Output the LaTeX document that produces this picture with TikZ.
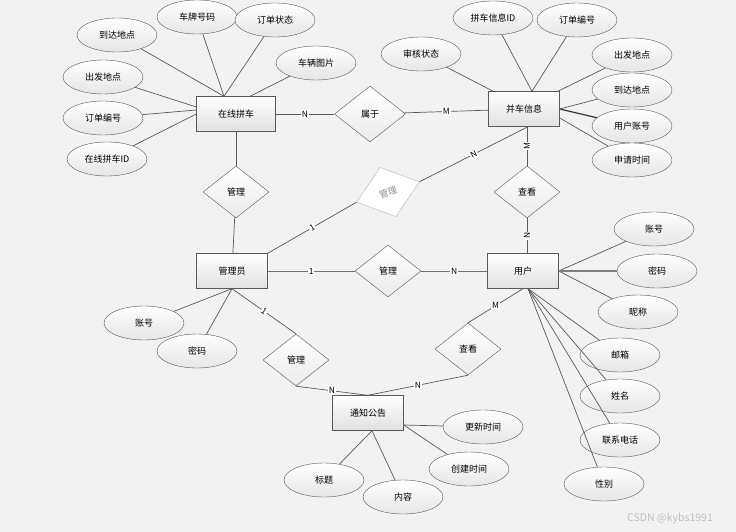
\documentclass[tikz,border=0pt]{standalone}
\usepackage{fontspec}
\setmainfont{Noto Sans CJK SC}
\usetikzlibrary{shapes.geometric}

\colorlet{line edge}{black!65}
\colorlet{page area}{gray!10}
\tikzset{
  entity/.style={rectangle, draw=line edge, top color=white, bottom color=black!12, minimum width=71pt, minimum height=35pt, inner sep=0pt},
  attr/.style={ellipse, draw=line edge, top color=white, bottom color=black!10, minimum width=80pt, minimum height=34pt, inner sep=0pt},
  rel/.style={diamond, draw=line edge, top color=white, bottom color=black!8, minimum width=66pt, minimum height=52pt, inner sep=0pt}
  }
\tikzstyle{edge} = [draw, line width=0.7pt, line edge]
\tikzstyle{card} = [fill=white, inner sep=0.8pt, font=\fontsize{8.5}{10}\selectfont, text=black]

\begin{document}
\begin{tikzpicture}[x=1pt, y=-1pt, font=\fontsize{9}{11}\selectfont]
    \fill[page area] (0,0) rectangle (736,532);
    \useasboundingbox (0,0) rectangle (736,532);

    % The entities
    \node[entity, minimum width=79pt] (zx) at (236,114) {在线拼车};
    \foreach \pos/\name/\txt in {{(524,109)/bx/并车信息}, {(232,271)/gly/管理员}, {(523,271)/yh/用户}, {(368,413)/tz/通知公告}} {
      \node[entity] (\name) at \pos {\txt};
    }

    % The attributes
    \foreach \pos/\name/\txt in {{(117,35)/zxdd/到达地点}, {(197,17)/zxcp/车牌号码}, {(275,20)/zxzt/订单状态}, {(316,63)/zxtp/车辆图片}, {(103,77)/zxcf/出发地点}, {(103,118)/zxbh/订单编号}, {(107,159)/zxid/在线拼车ID},
      {(421,54)/bxsh/审核状态}, {(493,18)/bxid/拼车信息ID}, {(577,20)/bxbh/订单编号}, {(632,55)/bxcf/出发地点}, {(632,90)/bxdd/到达地点}, {(632,126)/bxzh/用户账号}, {(632,160)/bxsj/申请时间},
      {(654,229)/yhzh/账号}, {(657,271)/yhmm/密码}, {(638,312)/yhnc/昵称}, {(620,355)/yhyx/邮箱}, {(620,396)/yhxm/姓名}, {(620,440)/yhdh/联系电话}, {(604,484)/yhxb/性别},
      {(144,323)/glyzh/账号}, {(197,351)/glymm/密码},
      {(324,480)/tzbt/标题}, {(403,497)/tznr/内容}, {(469,469)/tzcj/创建时间}, {(483,427)/tzgx/更新时间}} {
      \node[attr] (\name) at \pos {\txt};
    }

    % Where the attribute lines meet the entities
    \coordinate (zxtop) at ([xshift=-12pt]zx.north);
    \coordinate (zxtr) at ([xshift=14pt]zx.north);
    \coordinate (zxl1) at ([yshift=7pt]zx.west);
    \coordinate (zxl2) at ([yshift=4pt]zx.west);
    \coordinate (bxtl) at ([xshift=5pt]bx.north west);
    \coordinate (bxtop) at ([xshift=8pt]bx.north);
    \coordinate (bxtr) at ([xshift=-2pt]bx.north east);
    \coordinate (bxr) at ([yshift=-9pt]bx.east);
    \coordinate (yhbot) at ([xshift=5pt]yh.south);
    \coordinate (tzbot) at ([xshift=4pt]tz.south);
    \coordinate (tzr) at ([yshift=-12pt]tz.east);

    \foreach \source/\sink in {zxdd/zxtop, zxcp/zxtop, zxzt/zxtop, zxtp/zxtr, zxcf/zxl1, zxbh/zxl2, zxid/zx.west,
      bxsh/bxtl, bxid/bxtop, bxbh/bxtop, bxcf/bxtr, bxdd/bx.east, bxsj/bxr,
      yhzh/yh.east, yhnc/yh.east, yhyx/yhbot, yhxm/yhbot, yhdh/yhbot, yhxb/yhbot,
      glyzh/gly.south, glymm/gly.south, tzbt/tzbot, tznr/tzbot, tzcj/tzr, tzgx/tzr} {
      \path[edge] (\source) -- (\sink);
    }
    \path[edge, line width=1.2pt, black!80] (bxzh) -- (bx.east);
    \path[edge, line width=1.5pt, black!50] (yhmm) -- (yh.east);

    % The relationships
    \node[rel, minimum width=71pt, minimum height=56pt] (sy) at (370,114) {属于};
    \foreach \pos/\name/\txt in {{(236,192)/glzx/管理}, {(527,192)/ckbx/查看}, {(388,271)/glyh/管理}, {(468,349)/cktz/查看}, {(296,360)/gltz/管理}} {
      \node[rel] (\name) at \pos {\txt};
    }
    \node[rel, draw=black!30, top color=white, bottom color=white, text=black!45, rotate=18] (glbx) at (388,192) {管理};

    % The connections between them
    \path[edge] (zx) -- node[card] {N} (sy);
    \path[edge] (sy) -- node[card] {M} (bx);
    \path[edge] (zx) -- (glzx);
    \path[edge] (glzx) -- (gly);
    \path[edge] (ckbx |- bx.south) -- node[card, rotate=90] {M} (ckbx);
    \path[edge] (ckbx) -- node[card, rotate=90] {N} (ckbx |- yh.north);
    \path[edge] (gly.north east) -- node[card, sloped] {1} (glbx.west);
    \path[edge] (glbx.east) -- node[card, sloped] {N} ([xshift=4pt]bx.south);
    \path[edge, line width=1pt, black!55] (gly) -- node[card] {1} (glyh);
    \path[edge, line width=1pt, black!55] (glyh) -- node[card] {N} (yh);
    \path[edge] (yh.south) -- node[card] {M} (cktz.north);
    \path[edge] (cktz.south) -- node[card] {N} (tz.north);
    \path[edge] (gly.south) -- node[card, sloped] {1} (gltz.north);
    \path[edge] (gltz.south) -- node[card] {N} (tz.north);

    \node[text=black!25, font=\fontsize{10.5}{12}\selectfont] (wm) at (670,519) {CSDN @kybs1991};
\end{tikzpicture}
\end{document}
